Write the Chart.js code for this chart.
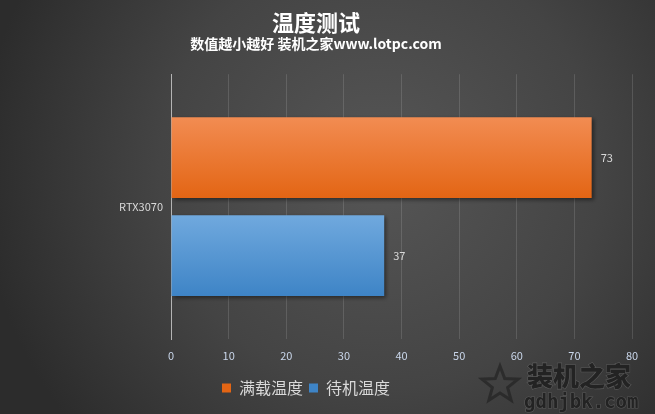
<!DOCTYPE html>
<html>
<head>
  <meta charset="UTF-8" />
  <title>温度测试</title>
  <script src="https://cdn.jsdelivr.net/npm/chart.js@4.4.0/dist/chart.umd.min.js"></script>
  <style>
    html,body{margin:0;padding:0;background:#3a3a3a;overflow:hidden;}
    #chart{display:block;}
  </style>
</head>
<body>
  <canvas id="chart" width="655" height="414"></canvas>
  <script>
    const categories=['RTX3070'];
    const seriesNames=['满载温度','待机温度'];
    const fullLoad=[73];
    const idle=[37];
    const xTicks=[0,10,20,30,40,50,60,70,80];

    const FONT='"Noto Sans CJK SC", "Microsoft YaHei", sans-serif';
    const barColors=[['#f28c52','#e36514'],['#70a9de','#3e84c6']];

    const bgPlugin={
      id:'bg',
      beforeDraw(chart){
        const c=chart.ctx;
        const g=c.createRadialGradient(380,170,0,380,170,400);
        g.addColorStop(0,'#565656');
        g.addColorStop(0.55,'#444444');
        g.addColorStop(1,'#2c2c2c');
        c.save();
        c.fillStyle=g;
        c.fillRect(0,0,chart.width,chart.height);
        c.restore();
      }
    };

    // legend sits a little left of centre in the original
    const legendShift={
      id:'legendShift',
      afterLayout(chart){
        chart.legend.left-=10;
        chart.legend.right-=10;
      }
    };

    // vertical gradient per bar + soft shadow
    const barStylePlugin={
      id:'barStyle',
      beforeDatasetsDraw(chart){
        const c=chart.ctx;
        chart.data.datasets.forEach((ds,i)=>{
          chart.getDatasetMeta(i).data.forEach(bar=>{
            const h=bar.height;
            const g=c.createLinearGradient(0,bar.y-h/2,0,bar.y+h/2);
            g.addColorStop(0,barColors[i][0]);
            g.addColorStop(1,barColors[i][1]);
            bar.options.backgroundColor=g;
          });
        });
        c.save();
        c.shadowColor='rgba(0,0,0,0.45)';
        c.shadowBlur=4;
        c.shadowOffsetX=2;
        c.shadowOffsetY=2;
      },
      afterDatasetsDraw(chart){
        chart.ctx.restore();
      }
    };

    const valuePlugin={
      id:'values',
      afterDatasetsDraw(chart){
        const c=chart.ctx;
        c.save();
        c.font='11px '+FONT;
        c.fillStyle='#d9d9d9';
        c.textAlign='left';
        c.textBaseline='middle';
        chart.data.datasets.forEach((ds,i)=>{
          chart.getDatasetMeta(i).data.forEach((bar,j)=>{
            c.fillText(String(ds.data[j]),bar.x+9,bar.y);
          });
        });
        c.restore();
      }
    };

    const watermarkPlugin={
      id:'watermark',
      afterDraw(chart){
        const c=chart.ctx;
        c.save();
        c.beginPath();
        for(let k=0;k<10;k++){
          const r=k%2?8:19;
          const a=-Math.PI/2+k*Math.PI/5;
          const px=500+r*Math.cos(a), py=385+r*Math.sin(a);
          k?c.lineTo(px,py):c.moveTo(px,py);
        }
        c.closePath();
        c.lineWidth=3;
        c.strokeStyle='rgba(30,30,30,0.6)';
        c.stroke();
        c.textAlign='left';
        c.textBaseline='middle';
        c.lineWidth=1.2;
        c.strokeStyle='rgba(110,110,110,0.6)';
        c.fillStyle='#232323';
        c.font='900 26px '+FONT;
        c.strokeText('装机之家',527,376);
        c.fillText('装机之家',527,376);
        c.font='bold 19px "DejaVu Sans Mono", monospace';
        c.strokeText('gdhjbk.com',524,403);
        c.fillText('gdhjbk.com',524,403);
        c.restore();
      }
    };

    new Chart(document.getElementById('chart'),{
      type:'bar',
      data:{
        labels:categories,
        datasets:[
          {label:seriesNames[0],data:fullLoad,backgroundColor:barColors[0][1],
           categoryPercentage:0.74,barPercentage:0.825},
          {label:seriesNames[1],data:idle,backgroundColor:barColors[1][1],
           categoryPercentage:0.74,barPercentage:0.825}
        ]
      },
      options:{
        indexAxis:'y',
        responsive:false,
        animation:false,
        devicePixelRatio:1,
        layout:{padding:{left:0,right:23,top:0,bottom:8}},
        scales:{
          x:{
            min:0,max:80,
            afterBuildTicks(scale){scale.ticks=xTicks.map(v=>({value:v}));},
            grid:{color:'rgba(255,255,255,0.13)',drawTicks:false,lineWidth:1},
            border:{display:false},
            ticks:{color:'#c9d6ea',font:{family:FONT,size:11},padding:10},
            afterFit(scale){scale.height=35;}
          },
          y:{
            grid:{display:false,drawTicks:false},
            border:{display:true,color:'#b4b4b4',width:1},
            ticks:{color:'#d9d9d9',font:{family:FONT,size:11},padding:8},
            afterFit(scale){scale.width=171;}
          }
        },
        plugins:{
          title:{display:true,text:'温度测试',color:'#ffffff',
            font:{family:FONT,size:22,weight:'bold'},padding:{top:9,bottom:0}},
          subtitle:{display:true,text:'数值越小越好 装机之家www.lotpc.com',color:'#ffffff',
            font:{family:FONT,size:14,weight:'bold'},padding:{top:0,bottom:22}},
          legend:{position:'bottom',
            labels:{color:'#d9d9d9',font:{family:FONT,size:16},boxWidth:9,boxHeight:9,padding:6,useBorderRadius:false}},
          tooltip:{enabled:false}
        }
      },
      plugins:[bgPlugin,legendShift,barStylePlugin,valuePlugin,watermarkPlugin]
    });
  </script>
</body>
</html>
